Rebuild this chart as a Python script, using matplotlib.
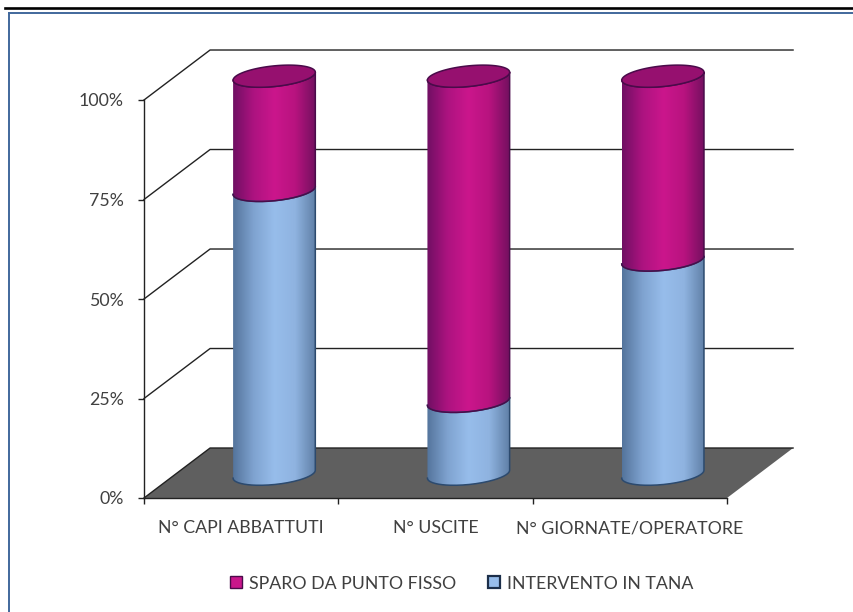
import numpy as np
import matplotlib
matplotlib.use('Agg')
import matplotlib.pyplot as plt
from matplotlib.colors import LinearSegmentedColormap
from matplotlib.lines import Line2D
from matplotlib.patches import Patch, Polygon

categories = ['N° CAPI ABBATTUTI', 'N° USCITE', 'N° GIORNATE/OPERATORE']
intervento = [71.3, 18.3, 53.8]
sparo = [28.7, 81.7, 46.2]
y_ticks = [0, 25, 50, 75, 100]
y_labels = ['0%', '25%', '50%', '75%', '100%']

W, H = 854, 612
plt.rcParams['font.family'] = ['Lato', 'DejaVu Sans']

fig = plt.figure(figsize=(W / 100, H / 100), dpi=100)
ax = fig.add_axes([144 / W, 1 - 498 / H, (727 - 144) / W, (498 - 100) / H])
ax.patch.set_visible(False)

# depth of the 3d box, in data units
DX, DY = 0.34, 12.56
# cylinder radius and tilt of its ellipses
RX, RY, TILT = 0.2115, 2.6, 1.0

blue_cmap = LinearSegmentedColormap.from_list('b', ['#54749c', '#7fa3d0', '#97bdeb', '#8fb3e0', '#5f7fa6'])
pink_cmap = LinearSegmentedColormap.from_list('p', ['#6f0f63', '#ad1380', '#cb168c', '#b8137f', '#72105f'])


def arc(cx, base, t):
    return cx + RX * np.cos(t), base + RY * np.sin(t) + TILT * np.cos(t)


def segment(cx, low, high, cmap, edge):
    t = np.linspace(np.pi, 2 * np.pi, 80)
    xl, yl = arc(cx, low, t)
    xh, yh = arc(cx, high, t)
    pts = np.column_stack([np.r_[xl, xh[::-1]], np.r_[yl, yh[::-1]]])
    grad = np.linspace(0, 1, 256)[None, :]
    im = ax.imshow(grad, cmap=cmap, aspect='auto', zorder=3, interpolation='bilinear',
                   extent=[cx - RX, cx + RX, low - RY - 1, high + RY + 1])
    # the top of the cylinder rises above the axes, so clip only to its own outline
    im.set_clip_box(fig.bbox)
    im.set_clip_path(Polygon(pts, closed=True, transform=ax.transData))
    ax.plot(pts[:, 0], pts[:, 1], color=edge, lw=1.1, zorder=4, clip_on=False)


# floor
floor = [(0, 0), (3, 0), (3 + DX, DY), (DX, DY)]
ax.add_patch(Polygon(floor, closed=True, facecolor='#5f5f5f', edgecolor='none', zorder=1, clip_on=False))

# walls and grid lines
for v in y_ticks:
    ax.plot([0, DX, 3 + DX], [v, v + DY, v + DY], color='#222222', lw=1.0, zorder=2, clip_on=False)

for i in range(len(categories)):
    cx = i + 0.5 + DX / 2
    base = DY / 2 - 0.3
    segment(cx, base, base + intervento[i], blue_cmap, '#2c4a6e')
    segment(cx, base + intervento[i], base + intervento[i] + sparo[i], pink_cmap, '#4a0b4a')
    t = np.linspace(0, 2 * np.pi, 120)
    xt, yt = arc(cx, base + intervento[i] + sparo[i], t)
    ax.fill(xt, yt, facecolor='#96106f', edgecolor='#4a0b4a', lw=1.1, zorder=5, clip_on=False)

ax.set_xlim(0, 3)
ax.set_ylim(0, 100)
for s in ['top', 'right']:
    ax.spines[s].set_visible(False)
for s in ['left', 'bottom']:
    ax.spines[s].set_color('#222222')
    ax.spines[s].set_linewidth(1.0)
    ax.spines[s].set_zorder(6)

ax.set_yticks(y_ticks, y_labels)
ax.set_xticks([0, 1, 2, 3], [])
ax.set_xticks([0.5, 1.5, 2.5], categories, minor=True)
ax.tick_params(axis='y', length=4, width=1, color='#222222', labelsize=12.8, labelcolor='#404040', pad=10.5)
ax.tick_params(axis='x', which='major', length=4, width=1, color='#222222')
ax.tick_params(axis='x', which='minor', length=0, labelsize=12.8, labelcolor='#404040', pad=16)

handles = [Patch(facecolor='#c9168b', edgecolor='#4a0b4a', lw=1, label='SPARO DA PUNTO FISSO'),
           Patch(facecolor='#97bdeb', edgecolor='#1c2f4a', lw=1.6, label='INTERVENTO IN TANA')]
ax.legend(handles=handles, ncols=2, frameon=False, fontsize=12.8, labelcolor='#404040',
          loc='center', bbox_to_anchor=(0.545, -0.215), handlelength=0.68, handleheight=0.68,
          handletextpad=0.4, columnspacing=1.8)

# page rules around the chart
fig.add_artist(Line2D([5 / W, 1], [1 - 8 / H, 1 - 8 / H], color='black', lw=1.9))
fig.add_artist(Line2D([8.5 / W, 1], [1 - 12.5 / H, 1 - 12.5 / H], color='#41689c', lw=1.4))
fig.add_artist(Line2D([8.5 / W, 8.5 / W], [0, 1 - 12.5 / H], color='#41689c', lw=1.4))

fig.savefig('out.png', dpi=100)
